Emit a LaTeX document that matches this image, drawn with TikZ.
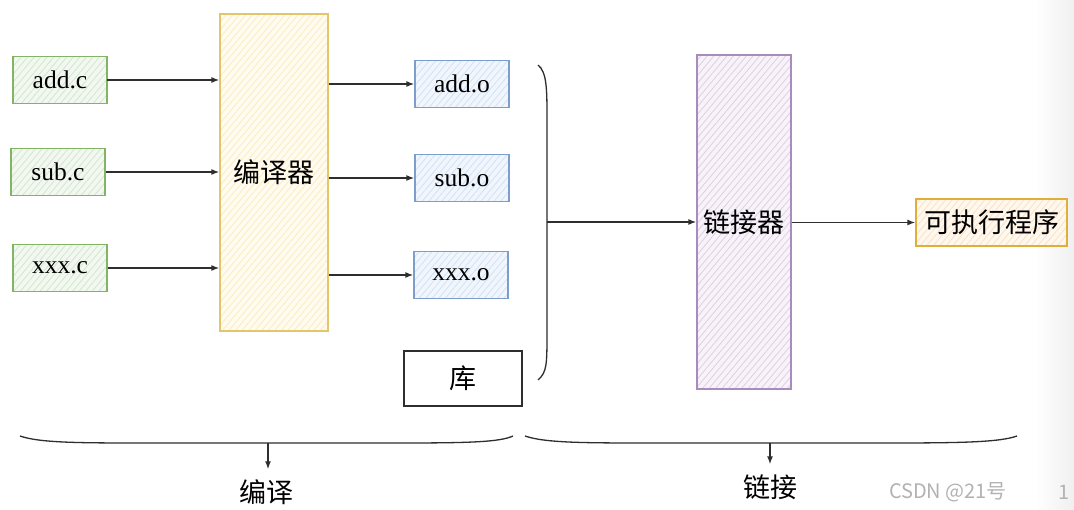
\documentclass[tikz,border=0pt]{standalone}
\usepackage{fontspec}
\setmainfont{Liberation Serif}
\newfontfamily\cjk{Noto Sans CJK SC}
\usetikzlibrary{arrows.meta,patterns.meta}

\definecolor{gline}{HTML}{82B366}\definecolor{gfill}{HTML}{F2F8F0}\definecolor{ghatch}{HTML}{D2E6D0}
\definecolor{yline}{HTML}{E3C66A}\definecolor{yfill}{HTML}{FFFBF0}\definecolor{yhatch}{HTML}{FBEBBE}
\definecolor{bline}{HTML}{7D9DCB}\definecolor{bfill}{HTML}{F1F6FD}\definecolor{bhatch}{HTML}{D2E1F6}
\definecolor{pline}{HTML}{A98BBC}\definecolor{pfill}{HTML}{F7F3F9}\definecolor{phatch}{HTML}{DCD0E5}
\definecolor{oline}{HTML}{E0AE3A}\definecolor{ofill}{HTML}{FFF8EF}\definecolor{ohatch}{HTML}{FCE0C2}
\definecolor{ink}{HTML}{2E2E2E}

\tikzset{
  box/.style={draw, line width=1.2pt, inner sep=0pt},
  hatched/.style 2 args={box, draw=#1, preaction={fill=#2},
    pattern={Lines[angle=50,distance=5pt,line width=0.8pt]}},
  srcbox/.style={hatched={gline}{gfill}, pattern color=ghatch,
    minimum width=94pt, minimum height=47pt, font=\fontsize{25.5}{27}\selectfont},
  objbox/.style={hatched={bline}{bfill}, pattern color=bhatch,
    minimum width=94pt, minimum height=47pt, font=\fontsize{25.5}{27}\selectfont},
  hanzi/.style={font=\cjk\fontsize{27}{30}\selectfont},
  conn/.style={draw=ink, line width=1.5pt, -{Latex[length=8pt,width=6pt]}},
  curve/.style={draw=ink, line width=1.3pt},
}

\begin{document}
\begin{tikzpicture}[x=1pt,y=-1pt]
\useasboundingbox (0,0) rectangle (1074,510);
\fill[white] (0,0) rectangle (1074,510);
% soft grey edge on the right
\shade[left color=white, right color=black!6] (1035,0) rectangle (1074,510);

% source files
\node[srcbox] (addc) at (60,80)  {add.c};
\node[srcbox] (subc) at (58,172) {sub.c};
\node[srcbox] (xxxc) at (60,268) {xxx.c};

% compiler
\node[hatched={yline}{yfill}, pattern color=yhatch, hanzi,
      minimum width=108pt, minimum height=317pt] (comp) at (274,172.5) {编译器};

% object files
\node[objbox] (addo) at (462,84)  {add.o};
\node[objbox] (subo) at (462,178) {sub.o};
\node[objbox] (xxxo) at (461,275) {xxx.o};

% library
\node[box, draw=ink, minimum width=118pt, minimum height=55pt, hanzi] (lib) at (463,378.5) {库};

% linker
\node[hatched={pline}{pfill}, pattern color=phatch, hanzi,
      minimum width=94pt, minimum height=334pt] (link) at (744,222) {链接器};

% executable
\node[hatched={oline}{ofill}, pattern color=ohatch, hanzi,
      minimum width=151pt, minimum height=47pt] (exe) at (991.5,222.5) {可执行程序};

% compile arrows
\draw[conn] (addc.east) -- (comp.west |- addc.east);
\draw[conn] (subc.east) -- (comp.west |- subc.east);
\draw[conn] (xxxc.east) -- (comp.west |- xxxc.east);
\draw[conn] (comp.east |- addo.west) -- (addo.west);
\draw[conn] (comp.east |- subo.west) -- (subo.west);
\draw[conn] (comp.east |- xxxo.west) -- (xxxo.west);

% bracket gathering objects and library
\coordinate (btop) at (538,65);
\coordinate (bmid) at (547,222);
\coordinate (bbot) at (538,380);
\draw[curve] (btop) .. controls (547,72) and (547,90) .. (547,120)
             -- (547,330) .. controls (547,365) and (547,372) .. (bbot);
\draw[conn] (bmid) -- (link.west |- bmid);

% link to executable
\draw[conn] (link.east |- exe.west) -- (exe.west);

% phase braces
\coordinate (cl) at (20,436);  \coordinate (cm) at (268,443); \coordinate (cr) at (513,436);
\coordinate (ll) at (525,436); \coordinate (lm) at (770,443); \coordinate (lr) at (1017,436);
\draw[curve] (cl) .. controls (40,443) and (80,443) .. (150,443) -- (400,443)
             .. controls (470,443) and (500,442) .. (cr);
\draw[curve] (ll) .. controls (545,443) and (585,443) .. (655,443) -- (890,443)
             .. controls (965,443) and (1000,442) .. (lr);

\node[hanzi, inner sep=2pt] (tcomp) at (266,492) {编译};
\node[hanzi, inner sep=2pt] (tlink) at (770,487) {链接};
\draw[conn] (cm) -- ([yshift=8pt]tcomp.north -| cm);
\draw[conn] (lm) -- ([yshift=8pt]tlink.north -| lm);

% author mark
\node[font=\cjk\fontsize{20}{22}\selectfont, text=black!30] (mark) at (948,492) {CSDN @21号};
\node[font=\cjk\fontsize{20}{22}\selectfont, text=black!30] (pg) at (1064,492) {1};
\end{tikzpicture}
\end{document}
